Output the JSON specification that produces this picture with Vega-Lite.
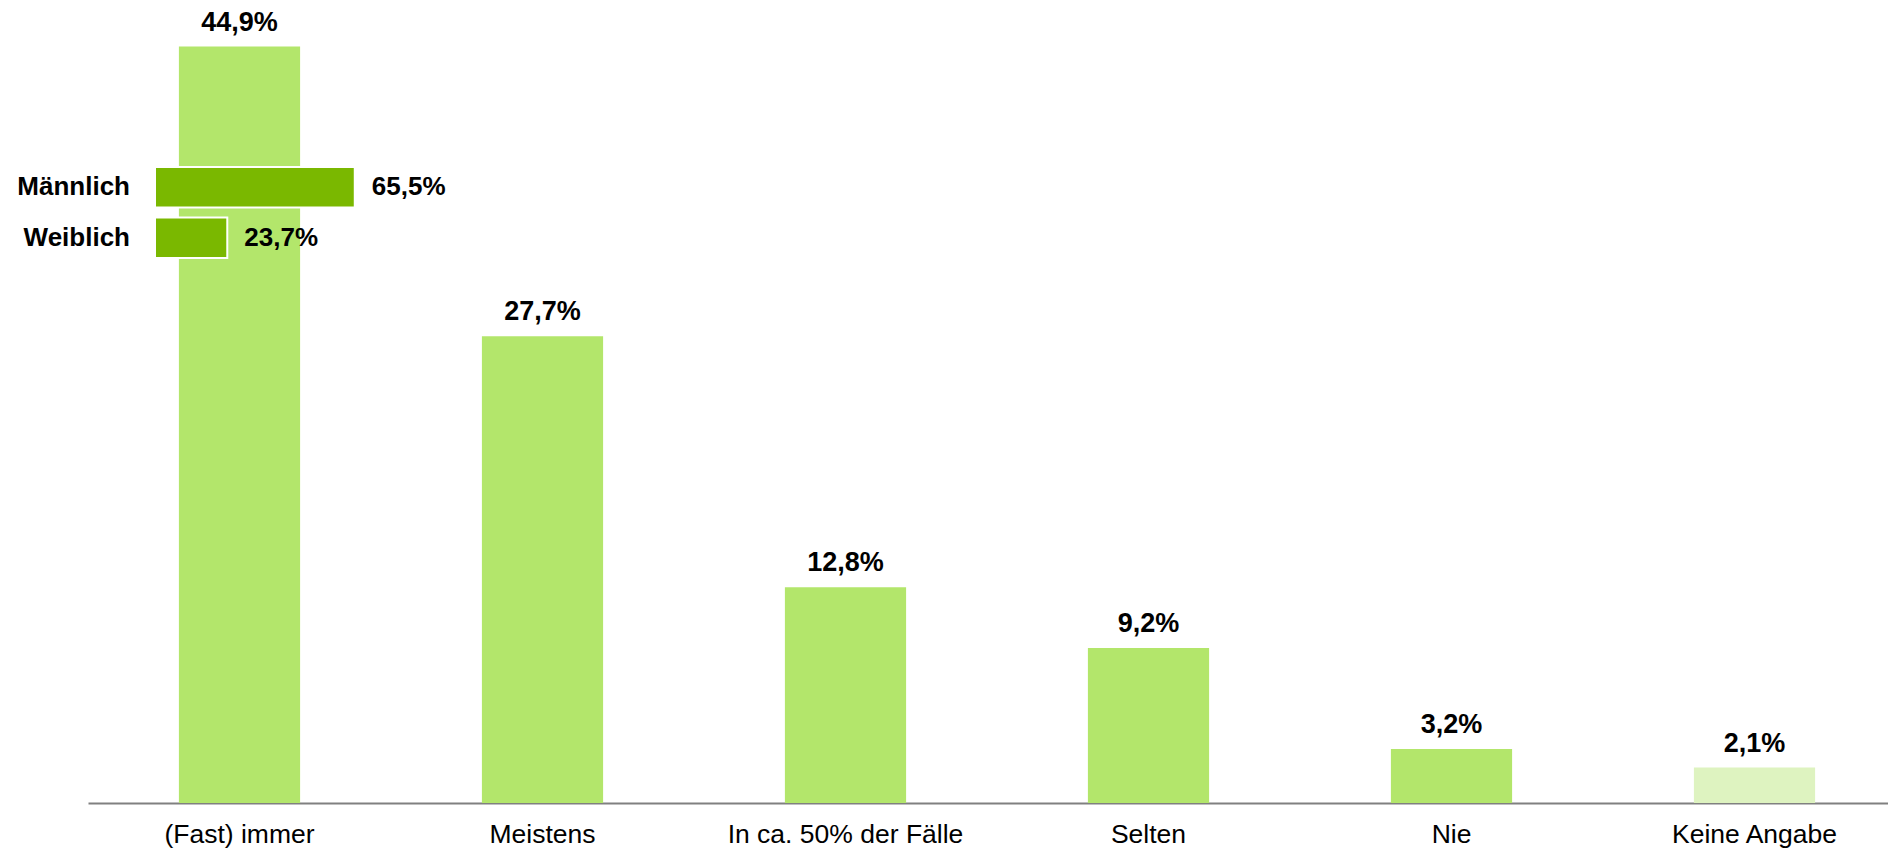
{
  "$schema": "https://vega.github.io/schema/vega-lite/v6.json",
  "width": 1818,
  "height": 803,
  "autosize": {"type": "none"},
  "padding": {"left": 88, "top": 0, "right": 0, "bottom": 48},
  "background": "white",
  "config": {"view": {"stroke": null}, "font": "Liberation Sans"},
  "datasets": {
    "main": [
      {"cat": "(Fast) immer", "value": 44.9, "label": "44,9%"},
      {"cat": "Meistens", "value": 27.7, "label": "27,7%"},
      {"cat": "In ca. 50% der Fälle", "value": 12.8, "label": "12,8%"},
      {"cat": "Selten", "value": 9.2, "label": "9,2%"},
      {"cat": "Nie", "value": 3.2, "label": "3,2%"},
      {"cat": "Keine Angabe", "value": 2.1, "label": "2,1%"}
    ],
    "inset": [
      {"gender": "Männlich", "value": 65.5, "label": "65,5%"},
      {"gender": "Weiblich", "value": 23.7, "label": "23,7%"}
    ]
  },
  "layer": [
    {
      "data": {"name": "main"},
      "encoding": {
        "x": {
          "field": "cat", "type": "nominal", "sort": null,
          "scale": {"paddingInner": 0.6, "paddingOuter": 0.3},
          "axis": {
            "title": null, "labelAngle": 0, "ticks": false,
            "domainColor": "#808080", "domainWidth": 2,
            "labelFontSize": 26.5, "labelFont": "Liberation Sans",
            "labelColor": "#000000", "labelPadding": 18, "labelLimit": 0
          }
        },
        "y": {
          "field": "value", "type": "quantitative",
          "scale": {"domain": [0, 47.66], "nice": false},
          "axis": null
        }
      },
      "layer": [
        {
          "mark": {"type": "bar"},
          "encoding": {
            "color": {
              "field": "cat", "type": "nominal", "legend": null,
              "scale": {
                "domain": ["(Fast) immer", "Meistens", "In ca. 50% der Fälle", "Selten", "Nie", "Keine Angabe"],
                "range": ["#b3e66b", "#b3e66b", "#b3e66b", "#b3e66b", "#b3e66b", "#def3c0"]
              }
            }
          }
        },
        {
          "mark": {"type": "text", "dy": -16, "baseline": "alphabetic", "fontSize": 27, "fontWeight": "bold", "font": "Liberation Sans", "color": "#000000"},
          "encoding": {"text": {"field": "label"}}
        }
      ]
    },
    {
      "data": {"name": "inset"},
      "encoding": {
        "y": {
          "field": "gender", "type": "nominal", "sort": null,
          "scale": {"range": [167, 258], "paddingInner": 0.2, "paddingOuter": 0},
          "axis": null
        }
      },
      "layer": [
        {
          "mark": {"type": "bar", "color": "#7ab800", "stroke": "white", "strokeWidth": 2},
          "encoding": {
            "x": {
              "field": "value", "type": "quantitative",
              "scale": {"domain": [0, 100], "range": [67, 372]},
              "axis": null
            }
          }
        },
        {
          "mark": {"type": "text", "align": "left", "dx": 17, "baseline": "middle", "fontSize": 26, "fontWeight": "bold", "font": "Liberation Sans", "color": "#000000"},
          "encoding": {
            "x": {"field": "value", "type": "quantitative"},
            "text": {"field": "label"}
          }
        },
        {
          "mark": {"type": "text", "align": "right", "dx": -25, "baseline": "middle", "fontSize": 26, "fontWeight": "bold", "font": "Liberation Sans", "color": "#000000"},
          "encoding": {
            "x": {"datum": 0, "type": "quantitative"},
            "text": {"field": "gender"}
          }
        }
      ]
    }
  ],
  "resolve": {"scale": {"x": "independent", "y": "independent", "color": "independent"}}
}
